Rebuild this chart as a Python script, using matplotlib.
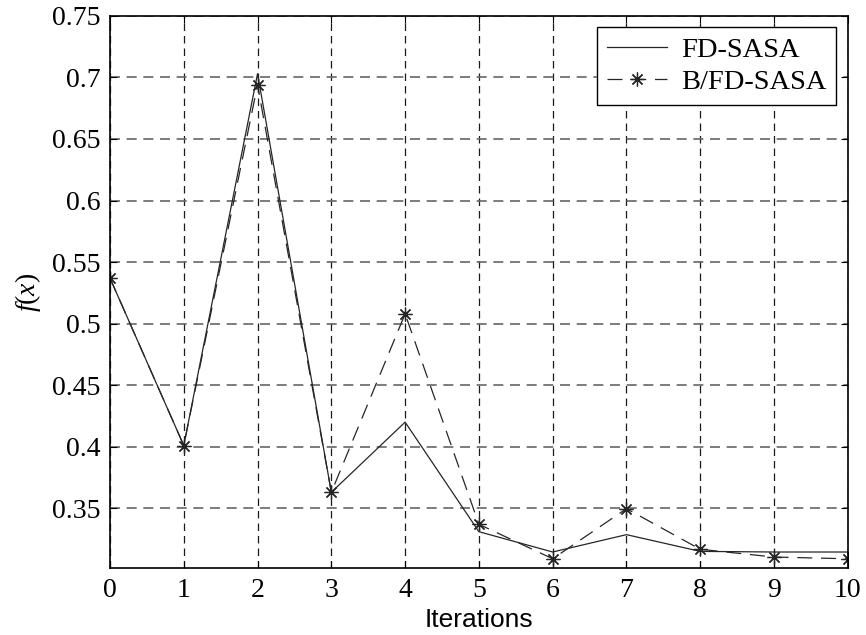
import matplotlib
matplotlib.use("Agg")
import matplotlib.pyplot as plt

# objective value per iteration for both methods
iterations = list(range(11))
fd_sasa = [0.537, 0.401, 0.703, 0.363, 0.420, 0.331, 0.3145, 0.3286, 0.315, 0.3145, 0.3145]
bfd_sasa = [0.537, 0.401, 0.694, 0.363, 0.508, 0.337, 0.309, 0.3497, 0.3167, 0.3104, 0.309]
yticks = [0.35, 0.4, 0.45, 0.5, 0.55, 0.6, 0.65, 0.7, 0.75]
ytick_labels = ["0.35", "0.4", "0.45", "0.5", "0.55", "0.6", "0.65", "0.7", "0.75"]

plt.rcParams["font.family"] = ["Liberation Serif", "DejaVu Serif"]
plt.rcParams["mathtext.fontset"] = "custom"
plt.rcParams["mathtext.rm"] = "Liberation Serif"
plt.rcParams["mathtext.it"] = "Liberation Serif:italic"

fig = plt.figure(figsize=(8.66, 6.35), dpi=100)
ax = fig.add_axes([0.127, 0.1055, 0.852, 0.8695])

ax.plot(iterations, fd_sasa, color="0.15", lw=0.9, label="FD-SASA")
ax.plot(iterations, bfd_sasa, color="0.15", lw=0.9, dashes=(12, 7),
        marker=(8, 2, 0), markersize=10, markeredgewidth=0.9,
        label="B/FD-SASA")

ax.set_xlim(0, 10)
ax.set_ylim(0.3015, 0.75)
ax.set_xticks(iterations)
ax.set_yticks(yticks)
ax.set_yticklabels(ytick_labels)
ax.tick_params(direction="in", top=True, right=True, labelsize=20, length=5, pad=7)

ax.xaxis.grid(True, color="0.1", ls=(0, (6, 4)), lw=0.9)
ax.yaxis.grid(True, color="0.4", ls=(0, (6, 4)), lw=1.2)
for s in ax.spines.values():
    s.set_linewidth(1.2)

ax.set_xlabel("Iterations", family="Liberation Sans", fontsize=19, labelpad=4)
ax.set_ylabel(r"$f$($x$)", fontsize=20, labelpad=6)

leg = ax.legend(loc="upper right", fontsize=20.5, fancybox=False, framealpha=1,
                edgecolor="black", handlelength=2.1, borderaxespad=0.4,
                labelspacing=0.2, handletextpad=0.5, borderpad=0.35)
leg.get_frame().set_linewidth(1.0)

fig.savefig("out.png", dpi=100)
plt.close(fig)
